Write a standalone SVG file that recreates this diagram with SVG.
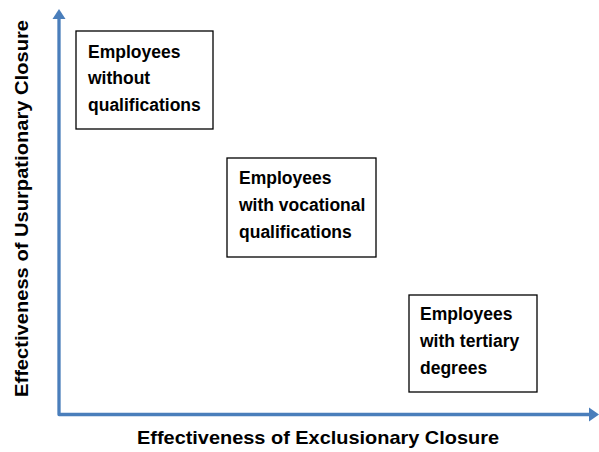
<svg xmlns="http://www.w3.org/2000/svg" width="599" height="452" viewBox="0 0 599 452">
<style>
.box{fill:#fff;stroke:#000;stroke-width:1.3}
.t{font-family:"Liberation Sans",Arial,sans-serif;font-weight:bold;font-size:17.5px;fill:#000}
.ax{font-family:"Liberation Sans",Arial,sans-serif;font-weight:bold;font-size:18.5px;fill:#000}
.axis{fill:none;stroke:#4a7ebb;stroke-width:3.3;stroke-linejoin:round}
.head{fill:#4a7ebb}
</style>
<rect width="599" height="452" fill="#fff"/>
<g id="connectors">
<path class="axis" d="M59,18 V414.5 H590"/>
<polygon class="head" points="59,9 65.5,19 52.5,19"/>
<polygon class="head" points="599,414.5 589,407.5 589,421.5"/>
</g>
<g id="node-without">
<rect class="box" x="76" y="31" width="137" height="98"/>
<text class="t" x="88" y="57.5">Employees</text>
<text class="t" x="88" y="84">without</text>
<text class="t" x="88" y="110.5">qualifications</text>
</g>
<g id="node-vocational">
<rect class="box" x="227" y="158" width="149" height="99"/>
<text class="t" x="239" y="183.5">Employees</text>
<text class="t" x="239" y="210.5">with vocational</text>
<text class="t" x="239" y="237.5">qualifications</text>
</g>
<g id="node-tertiary">
<rect class="box" x="409" y="295" width="128" height="97"/>
<text class="t" x="420" y="320">Employees</text>
<text class="t" x="420" y="347">with tertiary</text>
<text class="t" x="420" y="374">degrees</text>
</g>
<g id="axis-labels">
<text class="ax" x="318" y="444" text-anchor="middle" textLength="362" lengthAdjust="spacingAndGlyphs">Effectiveness of Exclusionary Closure</text>
<text class="ax" transform="translate(28,208.5) rotate(-90)" x="0" y="0" text-anchor="middle" textLength="377" lengthAdjust="spacingAndGlyphs">Effectiveness of Usurpationary Closure</text>
</g>
</svg>
